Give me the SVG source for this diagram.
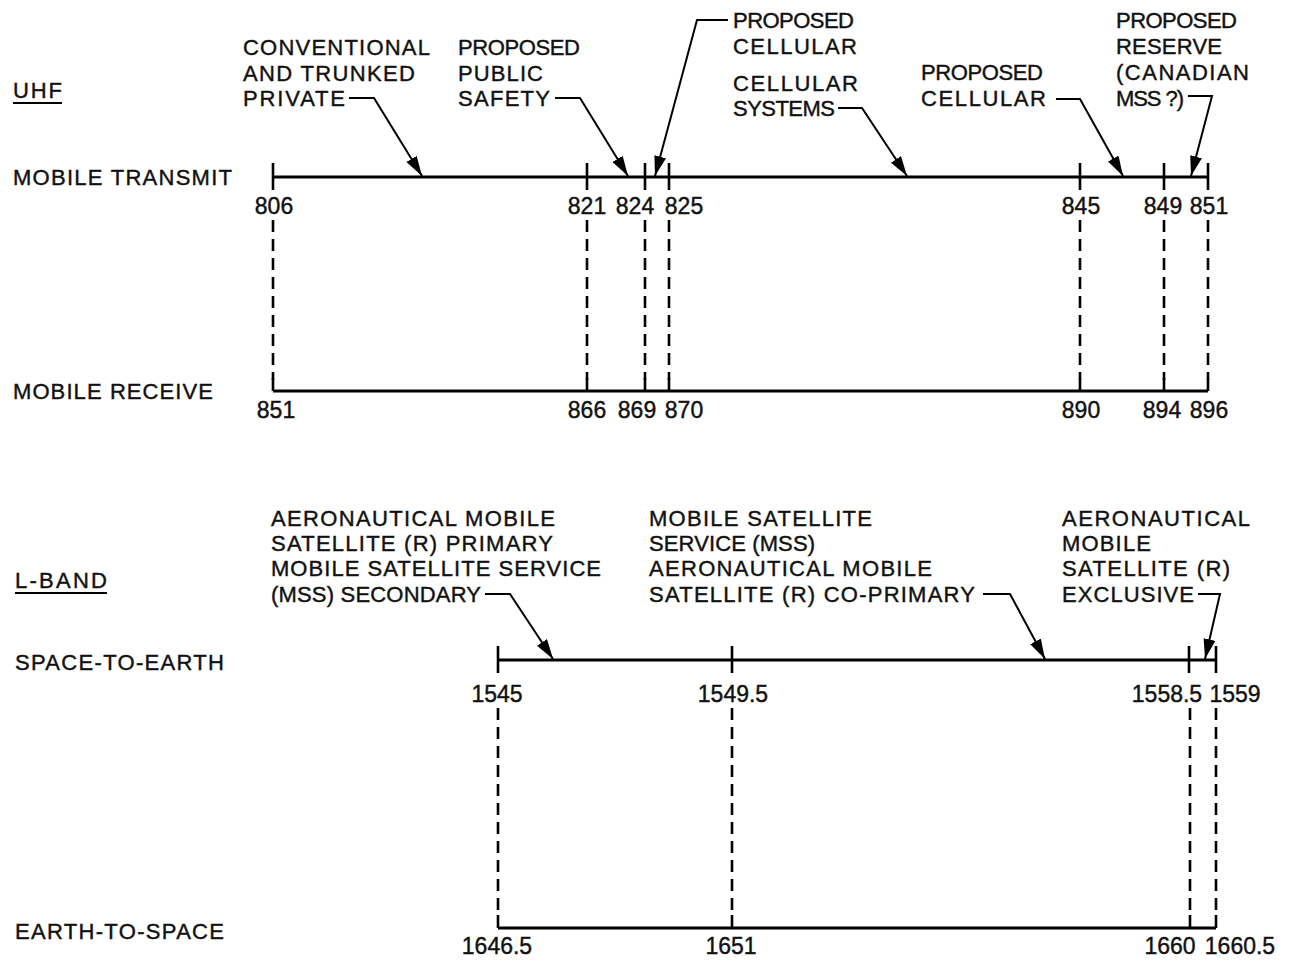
<svg xmlns="http://www.w3.org/2000/svg" width="1296" height="961" viewBox="0 0 1296 961">
<defs>
<marker id="ah" markerUnits="userSpaceOnUse" markerWidth="22" markerHeight="14" refX="20" refY="6" orient="auto">
<path d="M0,0 L20,6 L0,12 z" fill="#000"/>
</marker>
<style>
text{font-family:"Liberation Sans",Arial,Helvetica,sans-serif;font-size:22px;fill:#111;stroke:#111;stroke-width:0.4}
.num{font-size:23px;text-anchor:middle}
.axis{stroke:#000;stroke-width:3;fill:none}
.tick{stroke:#000;stroke-width:2.6;fill:none}
.dash{stroke:#000;stroke-width:2.6;fill:none;stroke-dasharray:12 7}
.lead{stroke:#000;stroke-width:2;fill:none;marker-end:url(#ah)}
.ul{stroke:#000;stroke-width:2}
</style>
</defs>
<rect width="1296" height="961" fill="#fff"/>

<g id="side-labels">
<text x="13" y="98" textLength="49" lengthAdjust="spacing">UHF</text><line class="ul" x1="13" y1="103" x2="62" y2="103"/>
<text x="13" y="185" textLength="219" lengthAdjust="spacing">MOBILE TRANSMIT</text>
<text x="13" y="399" textLength="200" lengthAdjust="spacing">MOBILE RECEIVE</text>
<text x="15" y="588" textLength="92" lengthAdjust="spacing">L-BAND</text><line class="ul" x1="15" y1="593" x2="107" y2="593"/>
<text x="15" y="670" textLength="209" lengthAdjust="spacing">SPACE-TO-EARTH</text>
<text x="15" y="939" textLength="209" lengthAdjust="spacing">EARTH-TO-SPACE</text>
</g>

<g id="uhf-transmit">
<line class="axis" x1="273" y1="177" x2="1208" y2="177"/>
<path class="tick" d="M273,163V190 M587,163V190 M645,163V190 M669,163V190 M1080,163V190 M1164,163V190 M1208,163V190"/>
<text class="num" x="274" y="214">806</text>
<text class="num" x="587" y="214">821</text>
<text class="num" x="635" y="214">824</text>
<text class="num" x="684" y="214">825</text>
<text class="num" x="1081" y="214">845</text>
<text class="num" x="1163" y="214">849</text>
<text class="num" x="1209" y="214">851</text>
</g>

<g id="uhf-receive">
<line class="axis" x1="273" y1="391" x2="1208" y2="391"/>
<path class="tick" d="M273,378V391 M587,378V391 M645,378V391 M669,378V391 M1080,378V391 M1164,378V391 M1208,378V391"/>
<text class="num" x="276" y="418">851</text>
<text class="num" x="587" y="418">866</text>
<text class="num" x="637" y="418">869</text>
<text class="num" x="684" y="418">870</text>
<text class="num" x="1081" y="418">890</text>
<text class="num" x="1162" y="418">894</text>
<text class="num" x="1209" y="418">896</text>
</g>

<g id="uhf-dashes">
<path class="dash" d="M273,220V380 M587,220V380 M645,220V380 M669,220V380 M1080,220V380 M1164,220V380 M1208,220V380"/>
</g>

<g id="uhf-labels">
<text x="243" y="55" textLength="187" lengthAdjust="spacing">CONVENTIONAL</text>
<text x="243" y="81" textLength="172" lengthAdjust="spacing">AND TRUNKED</text>
<text x="243" y="106" textLength="102" lengthAdjust="spacing">PRIVATE</text>
<text x="458" y="55" textLength="122" lengthAdjust="spacing">PROPOSED</text>
<text x="458" y="81" textLength="85" lengthAdjust="spacing">PUBLIC</text>
<text x="458" y="106" textLength="92" lengthAdjust="spacing">SAFETY</text>
<text x="733" y="28" textLength="121" lengthAdjust="spacing">PROPOSED</text>
<text x="733" y="54" textLength="124" lengthAdjust="spacing">CELLULAR</text>
<text x="733" y="91" textLength="125" lengthAdjust="spacing">CELLULAR</text>
<text x="733" y="116" textLength="102" lengthAdjust="spacing">SYSTEMS</text>
<text x="921" y="80" textLength="122" lengthAdjust="spacing">PROPOSED</text>
<text x="921" y="106" textLength="125" lengthAdjust="spacing">CELLULAR</text>
<text x="1116" y="28" textLength="121" lengthAdjust="spacing">PROPOSED</text>
<text x="1116" y="54" textLength="106" lengthAdjust="spacing">RESERVE</text>
<text x="1116" y="80" textLength="133" lengthAdjust="spacing">(CANADIAN</text>
<text x="1116" y="106" textLength="68" lengthAdjust="spacing">MSS ?)</text>
</g>

<g id="lband-s2e">
<line class="axis" x1="498" y1="660" x2="1216" y2="660"/>
<path class="tick" d="M498,646V673 M732,646V673 M1189,646V673 M1216,646V673"/>
<text class="num" x="497" y="702">1545</text>
<text class="num" x="733" y="702">1549.5</text>
<text class="num" x="1167" y="702">1558.5</text>
<text class="num" x="1235" y="702">1559</text>
</g>

<g id="lband-e2s">
<line class="axis" x1="498" y1="928" x2="1216" y2="928"/>
<path class="tick" d="M498,915V928 M732,915V928 M1190,915V928 M1216,915V928"/>
<text class="num" x="497" y="954">1646.5</text>
<text class="num" x="731" y="954">1651</text>
<text class="num" x="1170" y="954">1660</text>
<text class="num" x="1240" y="954">1660.5</text>
</g>

<g id="lband-dashes">
<path class="dash" d="M498,708V915 M732,708V915 M1190,708V915 M1216,708V915"/>
</g>

<g id="lband-labels">
<text x="271" y="526" textLength="284" lengthAdjust="spacing">AERONAUTICAL MOBILE</text>
<text x="271" y="551" textLength="282" lengthAdjust="spacing">SATELLITE (R) PRIMARY</text>
<text x="271" y="576" textLength="330" lengthAdjust="spacing">MOBILE SATELLITE SERVICE</text>
<text x="271" y="602" textLength="210" lengthAdjust="spacing">(MSS) SECONDARY</text>
<text x="649" y="526" textLength="223" lengthAdjust="spacing">MOBILE SATELLITE</text>
<text x="649" y="551" textLength="166" lengthAdjust="spacing">SERVICE (MSS)</text>
<text x="649" y="576" textLength="283" lengthAdjust="spacing">AERONAUTICAL MOBILE</text>
<text x="649" y="602" textLength="326" lengthAdjust="spacing">SATELLITE (R) CO-PRIMARY</text>
<text x="1062" y="526" textLength="188" lengthAdjust="spacing">AERONAUTICAL</text>
<text x="1062" y="551" textLength="89" lengthAdjust="spacing">MOBILE</text>
<text x="1062" y="576" textLength="168" lengthAdjust="spacing">SATELLITE (R)</text>
<text x="1062" y="602" textLength="132" lengthAdjust="spacing">EXCLUSIVE</text>
</g>

<g id="connectors">
<polyline class="lead" points="349,98 374,98 422,176"/>
<polyline class="lead" points="555,98 580,98 628,176"/>
<polyline class="lead" points="728,20 697,20 655,176"/>
<polyline class="lead" points="838,108 862,108 907,176"/>
<polyline class="lead" points="1056,99 1080,99 1123,176"/>
<polyline class="lead" points="1188,96 1212,96 1191,176"/>
<polyline class="lead" points="485,594 510,594 553,659"/>
<polyline class="lead" points="983,594 1010,594 1045,659"/>
<polyline class="lead" points="1198,594 1220,594 1205,659"/>
</g>
</svg>
